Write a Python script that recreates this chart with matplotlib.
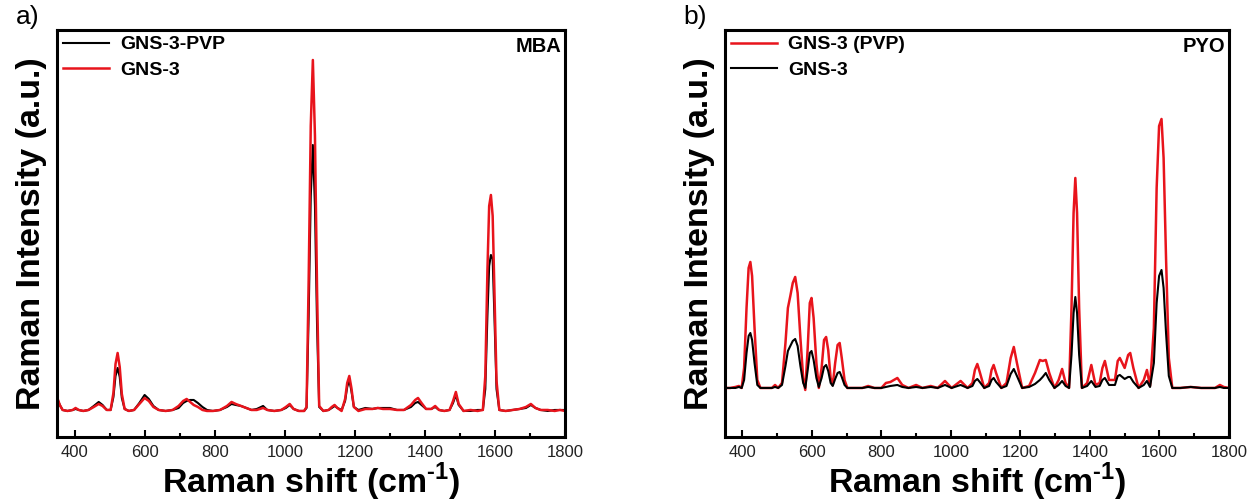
import matplotlib
matplotlib.use("Agg")
import matplotlib.pyplot as plt
from matplotlib.ticker import MultipleLocator

plt.rcParams['font.family'] = ['Liberation Sans', 'DejaVu Sans']
plt.rcParams['mathtext.fontset'] = 'custom'
plt.rcParams['mathtext.rm'] = 'Liberation Sans:bold'
plt.rcParams['mathtext.bf'] = 'Liberation Sans:bold'

# panel a) MBA : Raman shift and intensities (a.u., baseline = 0)
mba_shift = [350, 358, 366, 380, 395, 403, 412, 425, 440, 455, 469, 480, 492, 503,
             511, 517, 523, 529, 535, 543, 555, 570, 585, 600, 612, 625, 640, 660,
             680, 697, 710, 720, 730, 740, 752, 765, 778, 795, 815, 835, 848, 860,
             875, 890, 905, 920, 938, 950, 970, 990, 1003, 1014, 1025, 1040, 1055,
             1062, 1068, 1074, 1080, 1086, 1092, 1098, 1110, 1125, 1134, 1142, 1150,
             1162, 1172, 1178, 1184, 1190, 1197, 1210, 1230, 1250, 1265, 1280, 1300,
             1320, 1340, 1360, 1372, 1380, 1390, 1403, 1418, 1429, 1440, 1455, 1470,
             1480, 1488, 1496, 1510, 1530, 1550, 1565, 1572, 1578, 1583, 1588, 1593,
             1598, 1604, 1612, 1630, 1650, 1670, 1688, 1702, 1715, 1730, 1750, 1770,
             1785, 1800]
mba_gns3 = [14, 6, 1, 0, 1, 3, 1, 0, 1, 4, 7, 5, 1, 1,
            18, 47, 58, 44, 17, 2, 0, 1, 7, 13, 10, 4, 1, 0,
            1, 5, 10, 12, 9, 6, 4, 1, 0, 0, 1, 5, 9, 7,
            5, 3, 1, 1, 3, 1, 0, 1, 4, 7, 2, 0, 0,
            4, 130, 285, 351, 275, 120, 5, 0, 1, 4, 6, 3,
            0, 12, 28, 35, 23, 4, 0, 2, 2, 3, 2, 2,
            1, 1, 6, 11, 13, 8, 2, 2, 5, 1, 0, 1,
            10, 19, 7, 0, 1, 0, 1, 35, 140, 205, 216, 195,
            120, 30, 1, 0, 1, 2, 4, 7, 3, 1, 1, 0,
            1, 0]
mba_gns3_pvp = [13, 6, 1, 0, 1, 2, 1, 0, 1, 5, 9, 6, 1, 1,
                14, 35, 43, 34, 13, 2, 0, 1, 8, 16, 12, 5, 1, 0,
                1, 3, 8, 10, 11, 11, 8, 4, 1, 0, 1, 4, 7, 6,
                5, 3, 1, 2, 5, 1, 0, 1, 3, 6, 2, 0, 0,
                3, 95, 215, 266, 205, 85, 4, 0, 1, 3, 5, 3,
                1, 10, 24, 31, 20, 4, 1, 3, 2, 3, 3, 3,
                1, 1, 4, 8, 9, 6, 2, 2, 4, 1, 0, 1,
                8, 16, 6, 0, 0, 1, 1, 22, 95, 145, 156, 152,
                95, 22, 1, 0, 1, 2, 3, 6, 3, 1, 0, 1,
                1, 1]

# panel b) PYO
pyo_shift = [350, 365, 380, 390, 398, 405, 412, 418, 423, 428, 435, 443, 452, 470,
             485, 494, 503, 514, 524, 531, 538, 545, 552, 559, 567, 575, 581, 588,
             594, 599, 605, 613, 620, 628, 635, 641, 647, 654, 660, 667, 674, 680,
             686, 694, 702, 720, 745, 762, 780, 800, 813, 826, 846, 860, 878, 900,
             918, 942, 962, 983, 1002, 1028, 1048, 1062, 1069, 1076, 1083, 1096,
             1110, 1117, 1123, 1130, 1145, 1160, 1172, 1181, 1190, 1205, 1225, 1242,
             1256, 1264, 1273, 1283, 1298, 1310, 1320, 1330, 1340, 1347, 1353, 1358,
             1363, 1369, 1377, 1392, 1404, 1416, 1428, 1436, 1443, 1455, 1472, 1480,
             1486, 1500, 1510, 1516, 1525, 1540, 1555, 1564, 1573, 1584, 1592, 1599,
             1606, 1612, 1619, 1627, 1637, 1660, 1690, 1720, 1760, 1774, 1785, 1800]
pyo_gns3_pvp = [0, 0, 1, 2, 0, 20, 80, 120, 126, 112, 60, 8, 0, 0,
                0, 3, 0, 5, 45, 80, 92, 105, 111, 95, 50, 10, -2, 40,
                85, 90, 70, 25, 0, 20, 48, 51, 38, 10, 3, 25, 43, 45,
                30, 8, 0, 0, 0, 2, 0, 0, 5, 6, 10, 3, 0, 3,
                0, 2, 0, 7, 0, 7, 0, 5, 18, 24, 16, 0,
                5, 18, 23, 15, 0, 5, 30, 41, 25, 0, 2, 15,
                28, 27, 28, 15, 0, 8, 19, 5, 0, 80, 175, 210,
                175, 80, 0, 5, 23, 3, 5, 20, 27, 8, 8, 27,
                30, 20, 33, 35, 20, 0, 8, 18, 2, 60, 200, 262,
                269, 230, 130, 30, 0, 0, 1, 0, 0, 3, 1, 0]
pyo_gns3 = [0, 0, 0, 1, 0, 8, 35, 52, 55, 48, 25, 3, 0, 0,
            0, 1, 0, 3, 22, 37, 42, 47, 49, 42, 22, 5, 0, 18,
            35, 37, 28, 10, 1, 10, 21, 23, 17, 5, 2, 9, 15, 16,
            11, 3, 0, 0, 0, 1, 0, 0, 1, 2, 3, 1, 0, 1,
            0, 1, 0, 3, 0, 3, 0, 2, 7, 9, 6, 0,
            2, 8, 10, 6, 0, 2, 14, 19, 12, 0, 1, 4,
            8, 11, 15, 8, 0, 3, 7, 2, 0, 33, 75, 91,
            75, 33, 0, 2, 7, 1, 2, 8, 10, 3, 3, 12,
            13, 9, 11, 11, 6, 0, 3, 7, 1, 25, 85, 112,
            118, 100, 55, 12, 0, 0, 1, 0, 0, 1, 0, 0]

RED = '#e8141c'
BLACK = '#000000'

fig = plt.figure(figsize=(12.58, 5.04), dpi=100)
ax1 = fig.add_axes([0.0453, 0.133, 0.404, 0.8075])
ax2 = fig.add_axes([0.5763, 0.133, 0.4006, 0.8075])


def style_axes(ax):
    ax.set_xlim(350, 1800)
    ax.xaxis.set_major_locator(MultipleLocator(200))
    ax.xaxis.set_minor_locator(MultipleLocator(100))
    ax.tick_params(axis='x', which='major', direction='in', length=5, width=1.5,
                   labelsize=12, pad=6, labelcolor='#222222')
    ax.tick_params(axis='x', which='minor', direction='in', length=3, width=1.5)
    ax.set_yticks([])
    for s in ax.spines.values():
        s.set_linewidth(2.2)
    ax.set_xlabel('Raman shift (cm$^{\\text{-1}}$)', fontsize=24.5, fontweight='bold')
    ax.xaxis.set_label_coords(0.5, -0.058)
    ax.set_ylabel('Raman Intensity (a.u.)', fontsize=24.5, fontweight='bold')
    ax.yaxis.set_label_coords(-0.02, 0.5)


leg_kw = dict(loc='upper left', frameon=False, prop={'weight': 'bold', 'size': 14},
              handlelength=2.4, handletextpad=0.55, borderpad=0.15,
              borderaxespad=0.15, labelspacing=0.4)

# a) MBA
ax1.plot(mba_shift, mba_gns3_pvp, color=BLACK, lw=1.5, label='GNS-3-PVP')
ax1.plot(mba_shift, mba_gns3, color=RED, lw=1.8, label='GNS-3')
ax1.set_ylim(-26, 381)
style_axes(ax1)
ax1.legend(**leg_kw)
ax1.text(0.992, 0.982, 'MBA', transform=ax1.transAxes, ha='right', va='top',
         fontsize=14.5, fontweight='bold')
fig.text(0.013, 0.99, 'a)', fontsize=19, va='top')

# b) PYO
ax2.plot(pyo_shift, pyo_gns3_pvp, color=RED, lw=1.8, label='GNS-3 (PVP)')
ax2.plot(pyo_shift, pyo_gns3, color=BLACK, lw=1.5, label='GNS-3')
ax2.set_ylim(-49, 358)
style_axes(ax2)
ax2.legend(**leg_kw)
ax2.text(0.992, 0.982, 'PYO', transform=ax2.transAxes, ha='right', va='top',
         fontsize=14.5, fontweight='bold')
fig.text(0.543, 0.99, 'b)', fontsize=19, va='top')

fig.savefig('out.png', dpi=100)
